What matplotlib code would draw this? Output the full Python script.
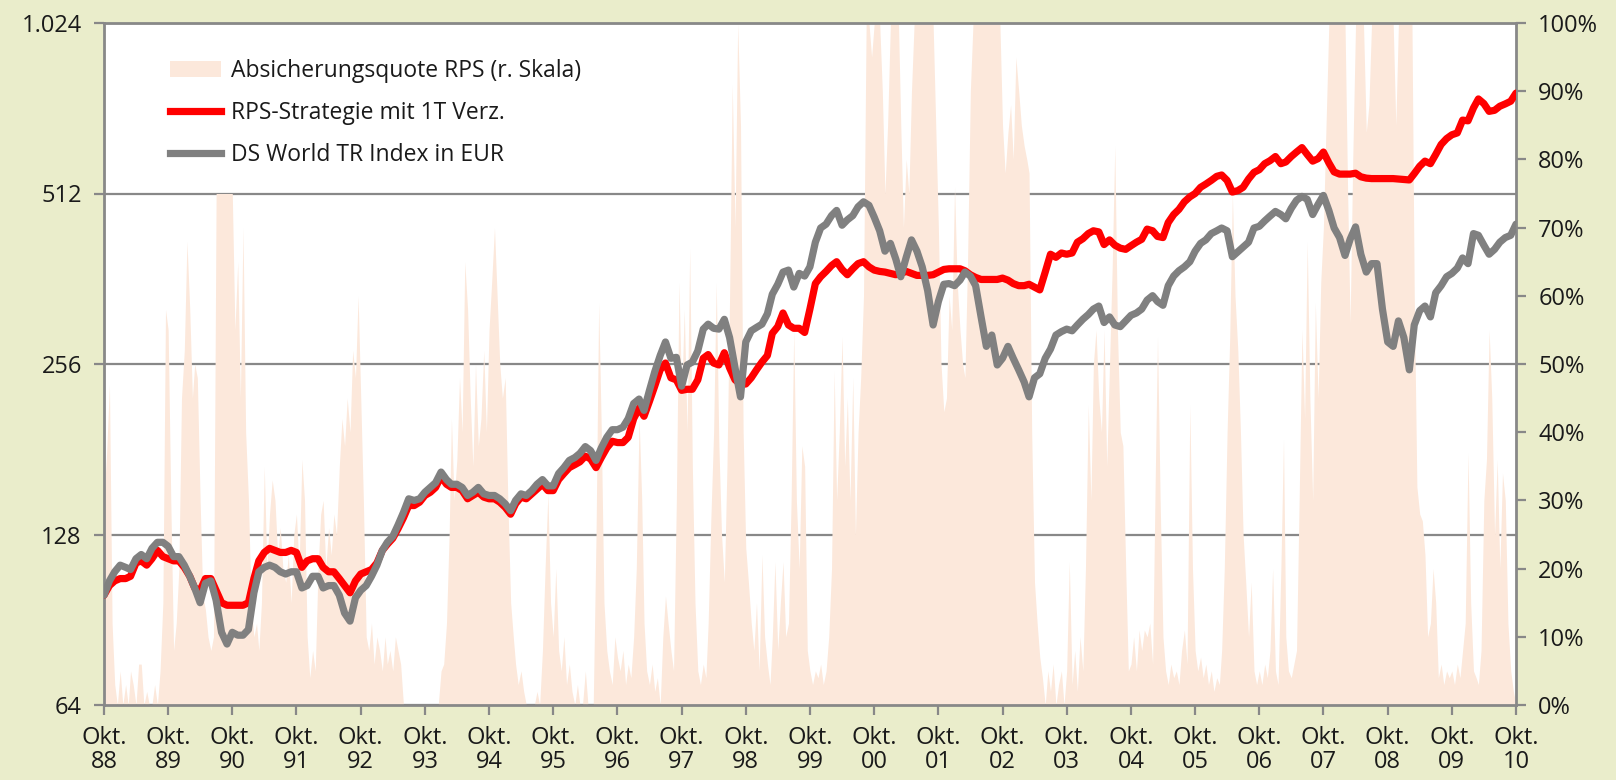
import numpy as np
import pandas as pd
import matplotlib
matplotlib.use("Agg")
import matplotlib.pyplot as plt
from matplotlib.patches import Patch
from matplotlib.lines import Line2D
from matplotlib.ticker import FixedLocator, NullLocator, FixedFormatter

plt.rcParams['font.family'] = ['Open Sans', 'DejaVu Sans']

# ---------------- data ----------------
# monthly values, Okt 88 ... Okt 10
ds_world = [
    100, 106, 110, 113, 112, 111, 116, 118, 116, 121, 124, 124,
    122, 117, 117, 113, 108, 103, 97, 105, 106, 98, 86, 82,
    86, 85, 85, 87, 101, 110, 112, 113, 112, 110, 109, 110,
    110, 103, 104, 108, 108, 103, 104, 104, 100, 93, 90, 99,
    102, 104, 108, 113, 120, 124, 127, 133, 140, 148, 147, 148,
    152, 155, 158, 165, 160, 157, 157, 155, 150, 152, 155, 151,
    150, 150, 148, 145, 141, 147, 151, 150, 153, 157, 160, 156,
    156, 164, 168, 173, 175, 178, 183, 180, 173, 182, 190, 196,
    196, 198, 205, 218, 222, 212, 230, 248, 265, 280, 262, 263,
    234, 255, 258, 270, 295, 301, 296, 295, 307, 285, 252, 224,
    280, 293, 297, 301, 314, 340, 354, 372, 375, 350, 370, 366,
    380, 420, 445, 452, 468, 478, 450, 460, 468, 485, 495, 488,
    465, 440, 405, 418, 392, 365, 395, 424, 405, 380, 345, 300,
    330, 354, 355, 352, 360, 372, 366, 352, 310, 275, 288, 255,
    262, 275, 262, 250, 238, 224, 242, 246, 262, 272, 288, 292,
    295, 293, 300, 307, 313, 320, 324, 303, 310, 300, 298, 305,
    312, 315, 320, 332, 338, 330, 325, 352, 366, 374, 380, 388,
    405, 418, 424, 435, 440, 445, 440, 396, 404, 412, 420, 445,
    448, 458, 467, 476, 470, 462, 482, 498, 506, 500, 470, 490,
    508, 478, 445, 428, 398, 425, 447, 400, 372, 385, 385, 320,
    280, 275, 305, 285, 250, 300, 318, 324, 310, 342, 352, 365,
    370, 378, 394, 385, 435, 432, 415, 400, 408, 420, 428, 432, 452,
]

rps_strategy = [
    100, 104, 106, 107, 107, 108, 114, 115, 113, 116, 120, 117,
    116, 115, 115, 112, 108, 103, 102, 107, 107, 102, 97, 96,
    96, 96, 96, 97, 107, 115, 119, 121, 120, 119, 119, 120,
    119, 112, 115, 116, 116, 112, 110, 110, 107, 104, 101, 106,
    109, 110, 111, 114, 120, 123, 126, 131, 137, 144, 144, 146,
    150, 152, 155, 162, 157, 155, 155, 153, 148, 150, 152, 149,
    148, 148, 146, 143, 139, 145, 149, 148, 151, 154, 157, 153,
    153, 160, 164, 168, 170, 172, 176, 174, 168, 175, 182, 187,
    186, 186, 190, 205, 214, 207, 220, 234, 250, 257, 242, 240,
    230, 231, 231, 240, 262, 266, 257, 255, 268, 252, 240, 236,
    236, 242, 250, 258, 265, 290, 298, 315, 300, 296, 296, 291,
    320, 355, 365, 373, 382, 388, 376, 368, 377, 385, 388, 380,
    375, 373, 372, 370, 368, 370, 373, 370, 367, 367, 367, 368,
    372, 376, 377, 377, 377, 374, 368, 364, 361, 361, 361, 361,
    363, 360, 355, 352, 352, 354, 350, 346, 372, 400, 395, 402,
    400, 402, 420, 426, 435, 440, 438, 416, 424, 415, 410, 408,
    414, 420, 425, 443, 440, 430, 428, 455, 470, 480, 495, 505,
    512, 525, 532, 540, 549, 552, 540, 515, 518, 525, 543, 558,
    564, 578, 585, 595, 578, 582, 595, 606, 617, 600, 584, 590,
    606, 580, 559, 554, 554, 554, 556, 548, 545, 544, 544, 544,
    544, 544, 543, 542, 541, 555, 572, 584, 578, 600, 625, 640,
    650, 655, 690, 688, 725, 752, 738, 715, 718, 730, 737, 745, 770,
]

# semi-monthly hedge ratio in percent (1st and 16th of each month)
hedge_ratio = [
    30, 37, 47, 12, 3, 0, 5, 0, 3, 0, 5, 3, 0, 6, 6, 0, 2, 0, 0, 3, 0, 5, 15, 58,
    55, 30, 8, 12, 20, 45, 52, 68, 58, 45, 50, 48, 30, 16, 14, 10, 8, 10, 75, 75, 75, 75, 75, 75,
    75, 55, 65, 45, 70, 40, 30, 15, 10, 12, 8, 15, 35, 20, 28, 33, 30, 22, 26, 20, 18, 22, 15, 25,
    28, 20, 36, 30, 10, 4, 8, 5, 20, 28, 30, 20, 26, 22, 28, 25, 35, 42, 38, 45, 40, 52, 48, 60,
    45, 30, 10, 8, 12, 6, 10, 8, 5, 10, 6, 8, 5, 10, 8, 6, 0, 0, 0, 0, 0, 0, 0, 0,
    0, 0, 0, 0, 0, 0, 5, 6, 12, 25, 42, 30, 36, 48, 40, 65, 58, 45, 35, 50, 38, 42, 52, 40,
    55, 62, 70, 60, 50, 45, 48, 30, 15, 10, 6, 3, 5, 2, 0, 0, 0, 0, 2, 0, 8, 20, 31, 15,
    10, 20, 8, 5, 10, 3, 6, 2, 0, 3, 0, 0, 5, 0, 0, 0, 25, 59, 40, 15, 8, 5, 3, 10,
    7, 5, 8, 3, 6, 4, 10, 20, 42, 30, 12, 5, 3, 6, 2, 4, 0, 10, 16, 12, 8, 5, 30, 62,
    45, 58, 40, 67, 35, 15, 5, 3, 6, 4, 12, 27, 40, 62, 38, 25, 18, 35, 60, 91, 70, 100, 85, 40,
    23, 18, 12, 8, 15, 5, 22, 10, 6, 3, 10, 21, 8, 15, 21, 10, 12, 30, 55, 30, 20, 38, 35, 8,
    5, 3, 5, 4, 6, 3, 5, 10, 20, 49, 30, 40, 54, 35, 45, 30, 48, 25, 40, 48, 60, 100, 100, 95,
    100, 100, 100, 90, 75, 85, 100, 100, 100, 100, 85, 70, 80, 75, 90, 100, 100, 100, 100, 100, 100, 100, 100, 85,
    70, 50, 43, 45, 60, 55, 76, 62, 55, 50, 48, 65, 90, 100, 100, 100, 100, 100, 100, 100, 100, 100, 100, 100,
    85, 78, 84, 88, 80, 95, 90, 85, 82, 80, 78, 40, 18, 12, 7, 4, 0, 5, 2, 6, 0, 3, 5, 0,
    5, 21, 3, 8, 2, 10, 5, 20, 44, 30, 50, 55, 45, 40, 55, 35, 50, 64, 82, 55, 40, 38, 20, 5,
    6, 10, 5, 11, 8, 11, 10, 12, 6, 33, 54, 30, 10, 5, 3, 6, 4, 5, 3, 8, 11, 6, 44, 20,
    8, 5, 7, 4, 6, 3, 5, 2, 4, 3, 8, 20, 40, 54, 75, 60, 52, 40, 25, 18, 10, 18, 5, 3,
    5, 3, 6, 4, 8, 20, 5, 3, 20, 39, 10, 5, 4, 6, 8, 30, 55, 42, 68, 45, 30, 59, 45, 62,
    70, 85, 100, 100, 100, 100, 100, 100, 100, 75, 56, 80, 100, 100, 100, 100, 84, 88, 100, 100, 100, 100, 100, 100,
    100, 100, 100, 85, 100, 100, 100, 100, 100, 100, 60, 32, 28, 27, 22, 10, 12, 20, 15, 4, 6, 3, 5, 4,
    5, 3, 6, 4, 8, 12, 37, 15, 5, 4, 3, 8, 30, 36, 55, 45, 25, 36, 20, 34, 30, 12, 5, 2, 0,
]

left_ticks = [64, 128, 256, 512, 1024]
left_labels = ['64', '128', '256', '512', '1.024']
right_ticks = [0, 10, 20, 30, 40, 50, 60, 70, 80, 90, 100]
x_years = list(range(1988, 2011))
x_labels = [f"Okt.\n{y % 100:02d}" for y in x_years]

legend_labels = ['Absicherungsquote RPS (r. Skala)',
                 'RPS-Strategie mit 1T Verz.',
                 'DS World TR Index in EUR']

# ---------------- dates ----------------
month_dates = pd.date_range('1988-10-01', '2010-10-01', freq='MS')
half_dates = pd.DatetimeIndex(sorted(list(month_dates) +
                                     list(month_dates[:-1] + pd.Timedelta(days=15))))
tick_dates = [pd.Timestamp(f'{y}-10-01') for y in x_years]

# ---------------- style ----------------
BG = '#EAEDCB'
AREA = '#FCE8DB'
RED = '#FF0000'
GRAY = '#808080'
AXC = '#888888'
TXT = '#1a1a1a'
FS = 17
LW = 5.2

fig = plt.figure(figsize=(16.16, 7.8), dpi=100, facecolor=BG)
rect = [104 / 1616, 75 / 780, 1412 / 1616, 682 / 780]
ax_log = fig.add_axes(rect)
ax_log.set_facecolor('white')
ax_pct = ax_log.twinx()
ax_lines = ax_log.twinx()

# bottom layer: log axis with grid
ax_log.set_yscale('log', base=2)
ax_log.set_ylim(64, 1024)
ax_log.yaxis.set_major_locator(FixedLocator(left_ticks))
ax_log.yaxis.set_major_formatter(FixedFormatter(left_labels))
ax_log.yaxis.set_minor_locator(NullLocator())
ax_log.yaxis.grid(True, color=AXC, lw=1.6)
ax_log.set_axisbelow(True)
for s in ax_log.spines.values():
    s.set_visible(False)

# middle layer: hedge ratio area
ax_pct.fill_between(half_dates, 0, hedge_ratio, color=AREA, lw=0)
ax_pct.set_ylim(0, 100)
ax_pct.yaxis.set_major_locator(FixedLocator(right_ticks))
ax_pct.yaxis.set_major_formatter(FixedFormatter([f"{v}%" for v in right_ticks]))
for s in ax_pct.spines.values():
    s.set_visible(False)

# top layer: lines (gray drawn over red)
ax_lines.set_yscale('log', base=2)
ax_lines.set_ylim(64, 1024)
ax_lines.yaxis.set_major_locator(NullLocator())
ax_lines.yaxis.set_minor_locator(NullLocator())
ax_lines.plot(month_dates, rps_strategy, color=RED, lw=LW, solid_joinstyle='round',
              solid_capstyle='round', zorder=3)
ax_lines.plot(month_dates, ds_world, color=GRAY, lw=LW, solid_joinstyle='round',
              solid_capstyle='round', zorder=4)
for s in ax_lines.spines.values():
    s.set_color(AXC)
    s.set_linewidth(2)

ax_log.set_xlim(month_dates[0], month_dates[-1])
ax_log.set_xticks(tick_dates)
ax_log.set_xticklabels(x_labels, linespacing=1.0)
ax_log.xaxis.set_minor_locator(NullLocator())

ax_log.tick_params(axis='y', direction='out', length=7, width=1.6, color=AXC,
                   labelsize=FS, labelcolor=TXT, pad=9)
ax_log.tick_params(axis='x', direction='out', length=7, width=1.6, color=AXC,
                   labelsize=FS, labelcolor=TXT, pad=8)
ax_pct.tick_params(axis='y', direction='out', length=7, width=1.6, color=AXC,
                   labelsize=FS, labelcolor=TXT, pad=9)

handles = [Patch(facecolor=AREA, edgecolor='none', label=legend_labels[0]),
           Line2D([], [], color=RED, lw=LW, label=legend_labels[1]),
           Line2D([], [], color=GRAY, lw=LW, label=legend_labels[2])]
leg = ax_lines.legend(handles=handles, loc='upper left', bbox_to_anchor=(0.047, 0.947),
                      frameon=False, fontsize=16.5, handlelength=2.2, handletextpad=0.45,
                      labelspacing=0.78, borderaxespad=0, borderpad=0)
for t in leg.get_texts():
    t.set_color(TXT)

fig.savefig('out.png', dpi=100, facecolor=BG)
